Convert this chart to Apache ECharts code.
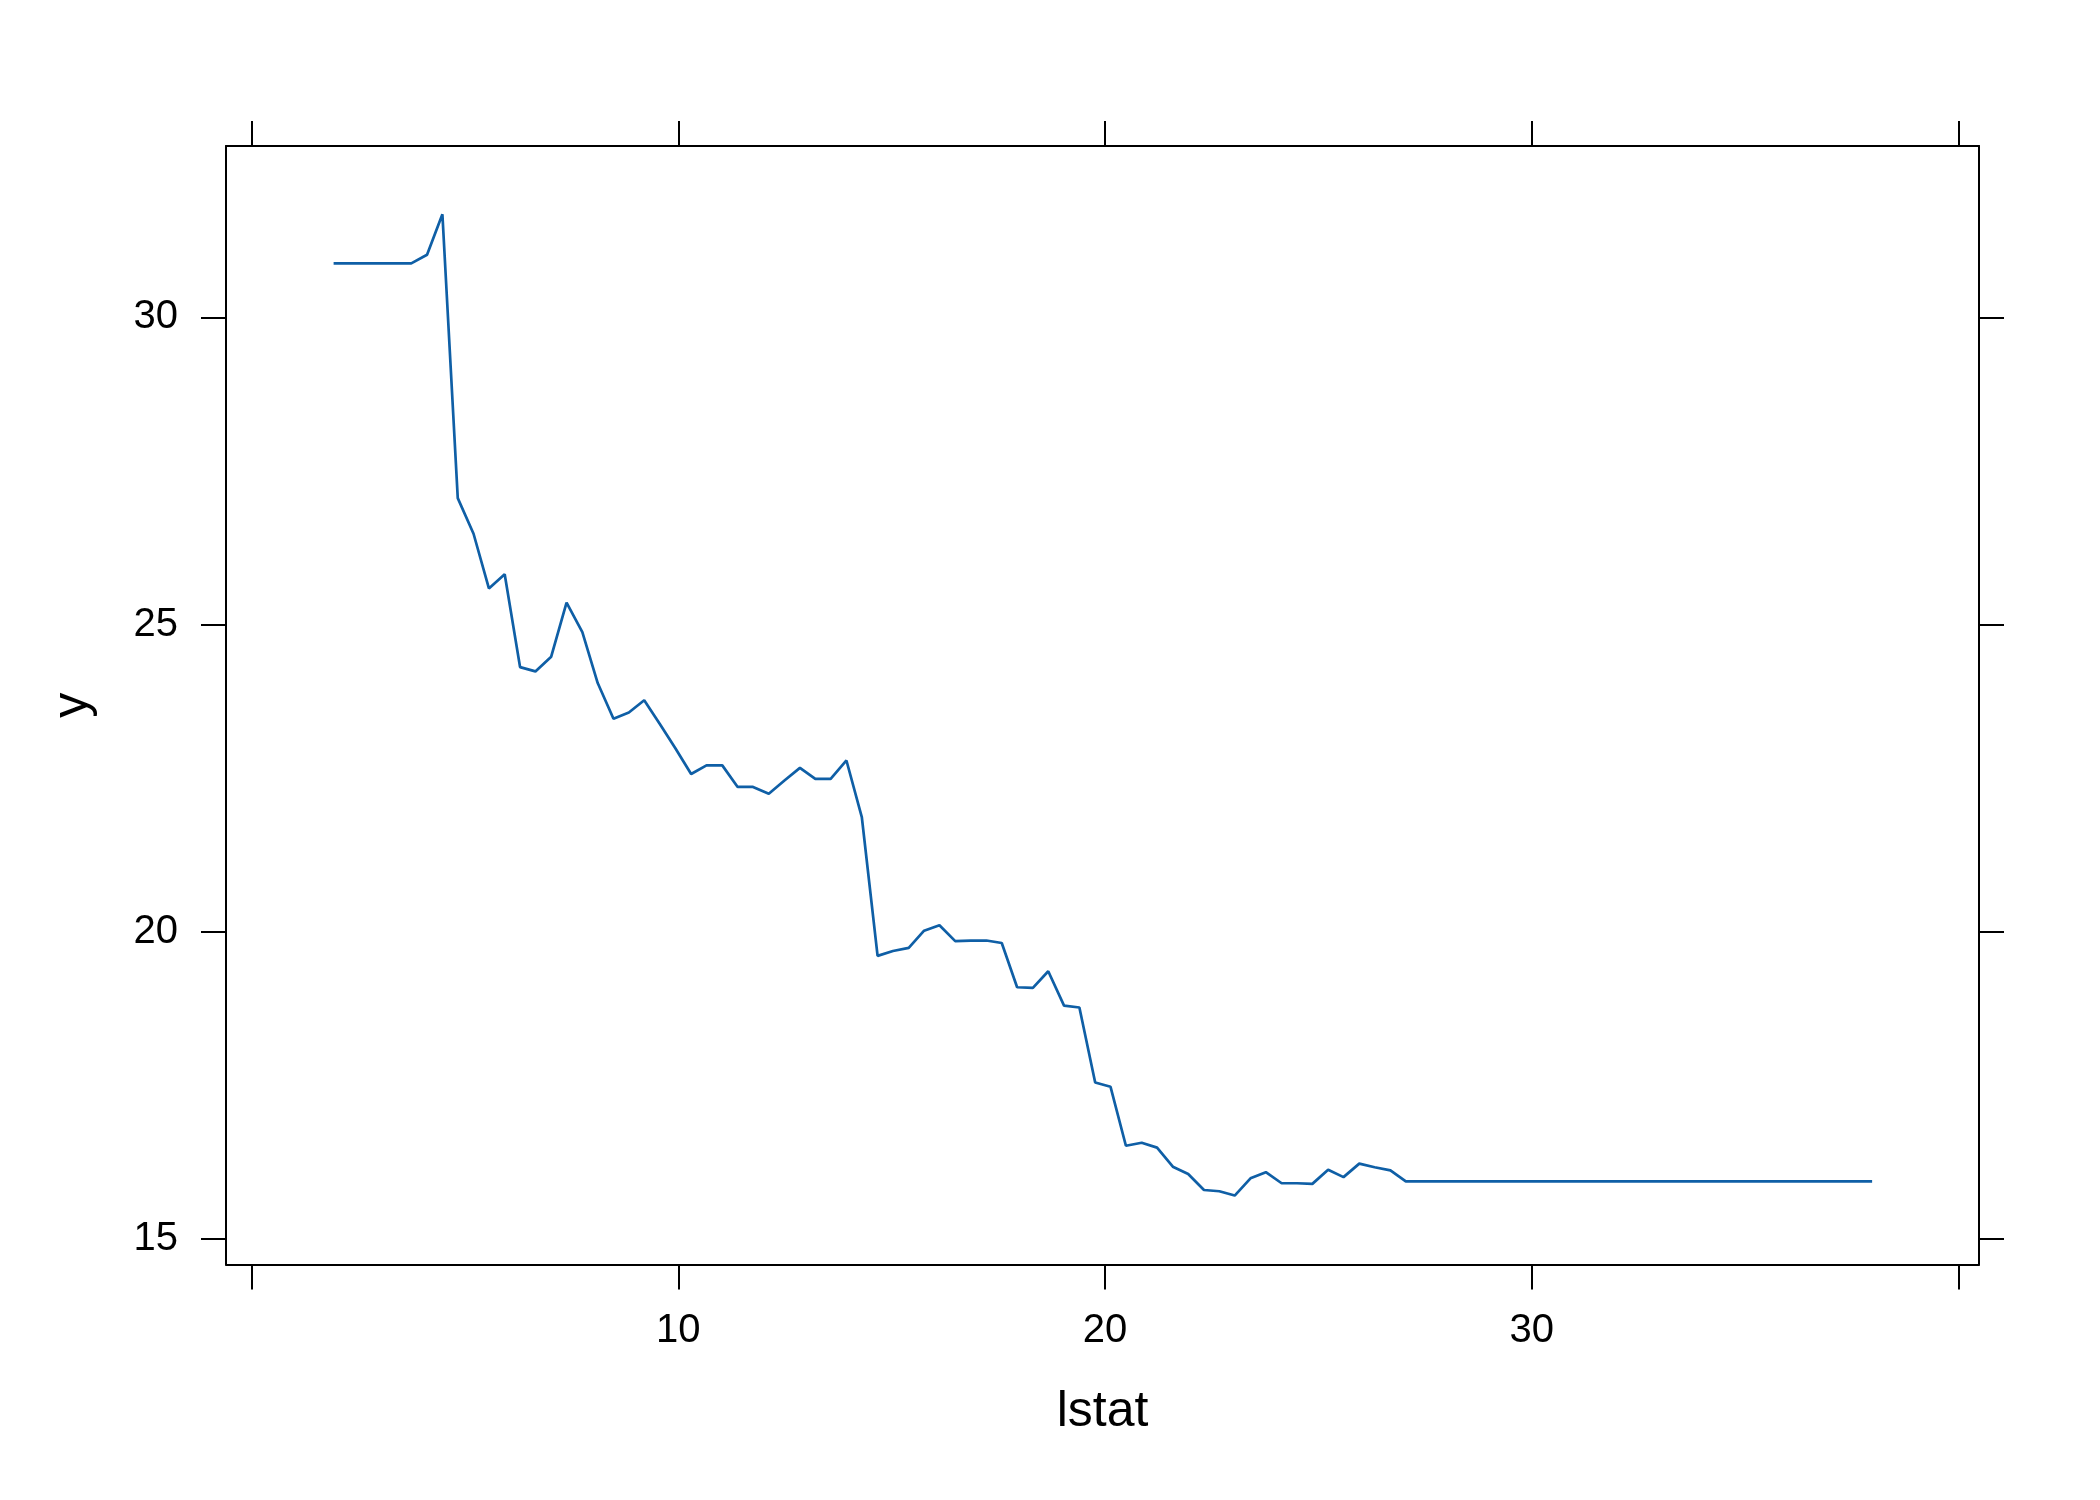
<!DOCTYPE html>
<html>
<head>
<meta charset="utf-8">
<script src="https://cdn.jsdelivr.net/npm/echarts@6/dist/echarts.min.js"></script>
<style>
html,body{margin:0;padding:0;background:#fff;}
#chart{width:2100px;height:1500px;}
</style>
</head>
<body>
<div id="chart"></div>
<script>
// lstat grid (x) and partial-dependence values (y)
const lstat = [1.92,2.28,2.65,3.01,3.38,3.74,4.11,4.47,4.83,5.20,
5.56,5.93,6.29,6.65,7.02,7.38,7.75,8.11,8.48,8.84,
9.20,9.57,9.93,10.30,10.66,11.03,11.39,11.75,12.12,12.48,
12.85,13.21,13.57,13.94,14.30,14.67,15.03,15.40,15.76,16.12,
16.49,16.85,17.22,17.58,17.94,18.31,18.67,19.04,19.40,19.77,
20.13,20.49,20.86,21.22,21.59,21.95,22.32,22.68,23.04,23.41,
23.77,24.14,24.50,24.86,25.23,25.59,25.96,26.32,26.69,27.05,
27.41,27.78,28.14,28.51,28.87,29.24,29.60,29.96,30.33,30.69,
31.06,31.42,31.78,32.15,32.51,32.88,33.24,33.61,33.97,34.33,
34.70,35.06,35.43,35.79,36.15,36.52,36.88,37.25,37.61,37.98];
const yhat = [30.88,30.88,30.88,30.88,30.88,30.88,31.02,31.68,27.06,26.48,
25.59,25.82,24.31,24.24,24.48,25.36,24.88,24.05,23.47,23.57,
23.77,23.38,22.99,22.57,22.71,22.71,22.36,22.36,22.25,22.46,
22.67,22.49,22.49,22.79,21.87,19.61,19.69,19.74,20.02,20.11,
19.85,19.86,19.86,19.82,19.10,19.09,19.36,18.80,18.77,17.55,
17.48,16.52,16.57,16.49,16.18,16.06,15.80,15.78,15.71,15.99,
16.09,15.91,15.91,15.90,16.13,16.01,16.23,16.17,16.12,15.94,
15.94,15.94,15.94,15.94,15.94,15.94,15.94,15.94,15.94,15.94,
15.94,15.94,15.94,15.94,15.94,15.94,15.94,15.94,15.94,15.94,
15.94,15.94,15.94,15.94,15.94,15.94,15.94,15.94,15.94,15.94];
const xTicks = [0,10,20,30,40];
const xLabels = [10,20,30];
const yTicks = [15,20,25,30];
const xRange = [-0.602, 40.485];
const yRange = [14.588, 32.79];

const FONT = "'Liberation Sans', Arial, Helvetica, sans-serif";
const lineStyle = {color:'#000', width:2};

function xAxisDef(pos, withLabels){
  return {
    type:'value', position:pos, min:xRange[0], max:xRange[1],
    axisLine:{show:true, onZero:false, lineStyle:lineStyle},
    axisTick:{show:true, inside:false, length:25, customValues:xTicks, lineStyle:lineStyle},
    axisLabel:{show:withLabels, customValues:xLabels, fontSize:40, color:'#000', margin:46, fontFamily:FONT},
    splitLine:{show:false},
    name: withLabels ? 'lstat' : '',
    nameLocation:'middle', nameGap:123,
    nameTextStyle:{fontSize:50, color:'#000', fontFamily:FONT}
  };
}
function yAxisDef(pos, withLabels){
  return {
    type:'value', position:pos, min:yRange[0], max:yRange[1],
    axisLine:{show:true, onZero:false, lineStyle:lineStyle},
    axisTick:{show:true, inside:false, length:25, customValues:yTicks, lineStyle:lineStyle},
    axisLabel:{show:withLabels, customValues:yTicks, fontSize:40, color:'#000', margin:48, fontFamily:FONT, padding:[6,0,0,0]},
    splitLine:{show:false},
    name: withLabels ? 'y' : '',
    nameLocation:'middle', nameGap:128, nameRotate:90,
    nameTextStyle:{fontSize:50, color:'#000', fontFamily:FONT}
  };
}

const chart = echarts.init(document.getElementById('chart'), null, {renderer:'canvas'});
chart.setOption({
  animation:false,
  backgroundColor:'#fff',
  grid:{left:226, top:146, right:121, bottom:235.5, containLabel:false},
  xAxis:[xAxisDef('bottom', true), xAxisDef('top', false)],
  yAxis:[yAxisDef('left', true), yAxisDef('right', false)],
  series:[{
    type:'line',
    data: lstat.map((x,i)=>[x, yhat[i]]),
    showSymbol:false,
    symbol:'none',
    lineStyle:{color:'#0f5fa6', width:2.7},
    xAxisIndex:0, yAxisIndex:0
  }]
});
</script>
</body>
</html>
